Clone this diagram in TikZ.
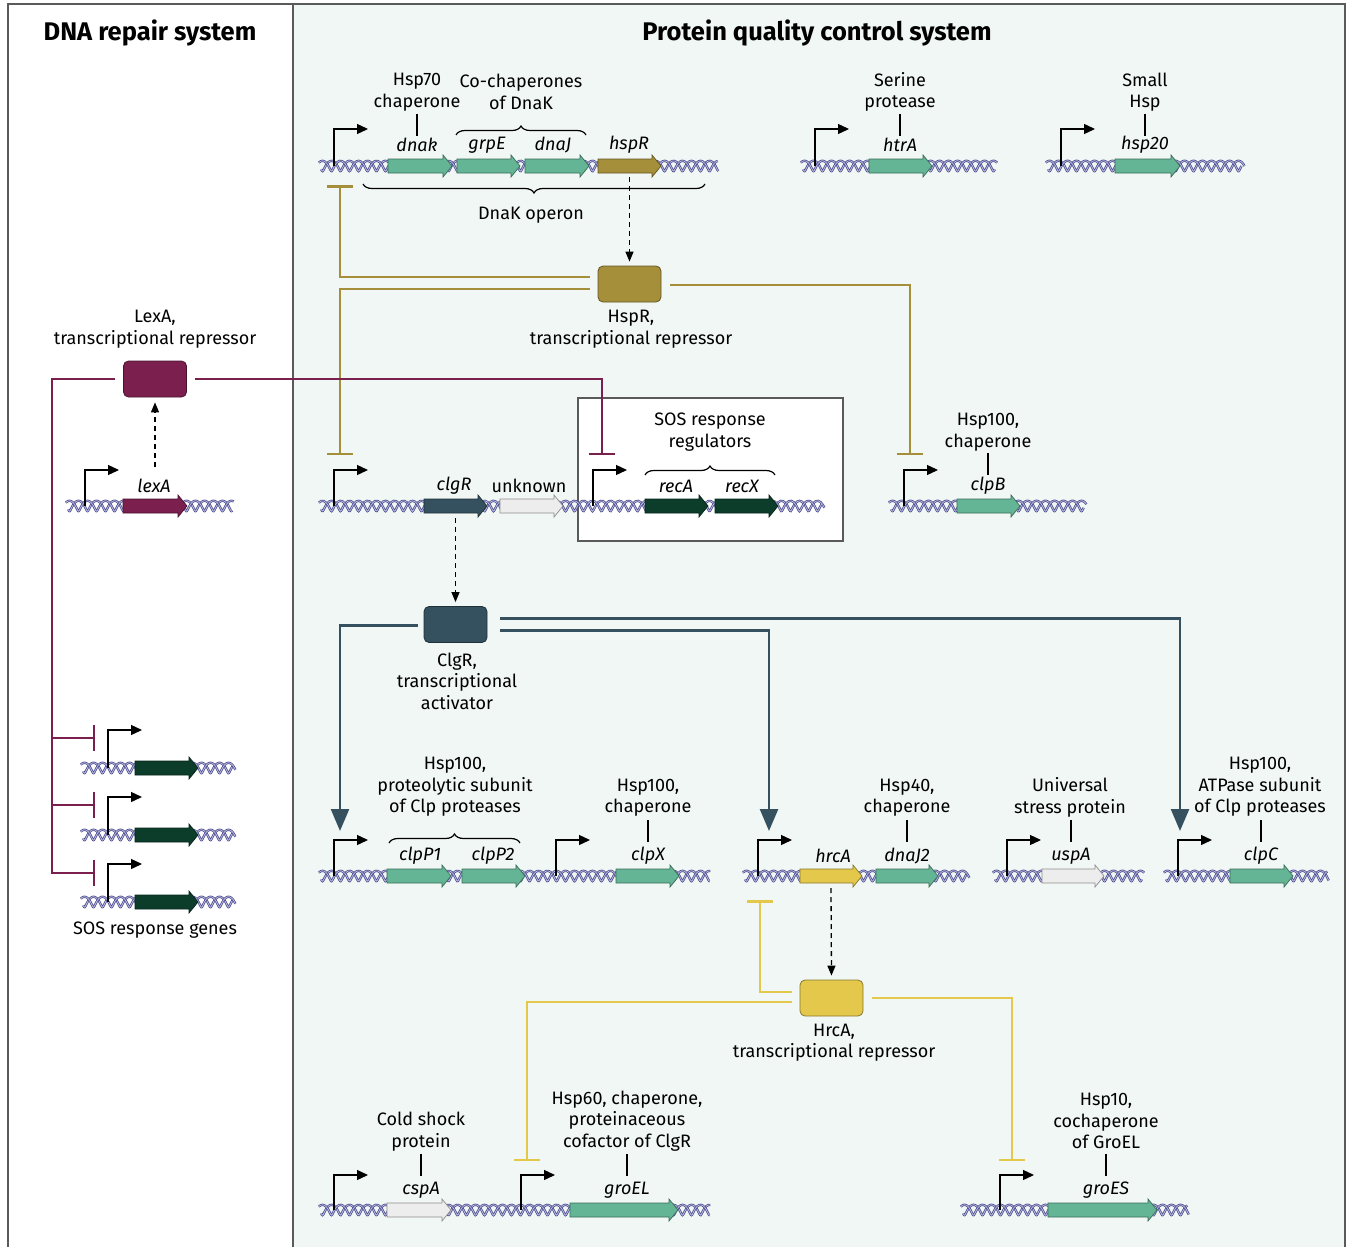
\documentclass[tikz,border=0pt]{standalone}
\usepackage{fontspec}
\setmainfont{Fira Sans}
\usetikzlibrary{arrows.meta,decorations.pathreplacing,calc}
\definecolor{mint}{HTML}{F1F7F4}
\definecolor{dnaD}{HTML}{4A4A90}
\definecolor{dnaL}{HTML}{BDBDDF}
\definecolor{gGreen}{HTML}{63B595}
\definecolor{gOlive}{HTML}{A68F3B}
\definecolor{gMaroon}{HTML}{7A1F4E}
\definecolor{gSlate}{HTML}{35515F}
\definecolor{gDark}{HTML}{0C3D2B}
\definecolor{gYellow}{HTML}{E4C84B}
\definecolor{gGrey}{HTML}{EDEDED}
\definecolor{frameC}{HTML}{5A5A5A}

\newcommand\dna[3]{%
  \foreach \ph in {0,180}{
  \draw[dnaD, line width=2.3pt] plot[domain=#1+2:#2-2, samples=300, smooth] ({\x+1.5*cos(20*(\x-#1)+\ph)},{#3+5.2*sin(20*(\x-#1)+\ph)});
  \draw[dnaL, line width=0.8pt] plot[domain=#1+2:#2-2, samples=300, smooth] ({\x+1.5*cos(20*(\x-#1)+\ph)},{#3+5.2*sin(20*(\x-#1)+\ph)});
  }}
\newcommand\gene[5]{%
  \filldraw[fill=#5, draw=#5!60!black, line width=0.7pt] (#2,#4-7) -- (#3-9,#4-7) -- (#3-9,#4-11) -- (#3,#4) -- (#3-9,#4+11) -- (#3-9,#4+7) -- (#2,#4+7) -- cycle;
  \coordinate (#1) at ({(#2+#3)/2},#4);}
\newcommand\prom[3]{\draw[promo] (#1,#2) -- (#1,#3) -- (#1+34,#3);}

\tikzset{
  promo/.style={draw=black, line width=1.3pt, -{Triangle[length=11pt,width=10pt]}},
  rbox/.style={rounded corners=5pt, minimum width=63pt, minimum height=36pt, line width=0.8pt, inner sep=0},
  lab/.style={font=\fontsize{18}{21.5}\selectfont, align=center, inner sep=0},
  glab/.style={font=\fontsize{18}{21}\selectfont\itshape, inner sep=0},
  ttl/.style={font=\fontsize{25.5}{28}\selectfont\bfseries, inner sep=0},
  tick/.style={draw=black, line width=1.1pt},
  brc/.style={draw=black, line width=1.2pt, decorate, decoration={brace, amplitude=9pt}},
  dsh/.style={draw=black, line width=1.3pt, dash pattern=on 5pt off 4pt, -{Triangle[length=10pt,width=8pt]}},
  inh/.style={line width=2.5pt, -{Bar[width=26pt]}},
  act/.style={draw=gSlate, line width=2.5pt, -{Triangle[length=22pt,width=18pt]}},
}

\begin{document}
\begin{tikzpicture}[x=1pt,y=-1pt]
\useasboundingbox (0,0) rectangle (1350,1247);
\fill[mint] (293,4) rectangle (1345,1250);
\draw[frameC, line width=1.5pt] (8,1250) -- (8,4) -- (1345,4) -- (1345,1250);
\draw[frameC, line width=1.5pt] (293,4) -- (293,1250);

\node[ttl] (t1) at (150,33) {DNA repair system};
\node[ttl] (t2) at (817,33) {Protein quality control system};

% ---------- Row 1
\dna{318}{720}{166}
\prom{334}{166}{129}
\gene{dnak}{388}{452}{166}{gGreen}
\gene{grpE}{457}{520}{166}{gGreen}
\gene{dnaJ}{525}{589}{166}{gGreen}
\gene{hspR}{598}{661}{166}{gOlive}
\node[glab] (ldnak) at (417,145) {dnak};
\node[glab] (lgrpE) at (487,145) {grpE};
\node[glab] (ldnaJ) at (553,145) {dnaJ};
\node[glab] (lhspR) at (629,145) {hspR};
\node[lab] (hsp70) at (417,92) {Hsp70\\chaperone};
\draw[tick] (417,114) -- (417,136);
\draw[brc] (456,135) -- (586,135);
\node[lab] (cochap) at (521,92) {Co-chaperones\\of DnaK};
\draw[brc] (705,184) -- (363,184);
\node[lab] (operon) at (531,215) {DnaK operon};

\dna{800}{998}{166}
\prom{815}{166}{129}
\gene{htrA}{869}{932}{166}{gGreen}
\node[glab] (lhtrA) at (900,145) {htrA};
\node[lab] (serine) at (900,92) {Serine\\protease};
\draw[tick] (900,114) -- (900,136);

\dna{1045}{1245}{166}
\prom{1061}{166}{129}
\gene{hsp20}{1115}{1180}{166}{gGreen}
\node[glab] (lhsp20) at (1145,145) {hsp20};
\node[lab] (smallhsp) at (1145,92) {Small\\Hsp};
\draw[tick] (1145,114) -- (1145,136);

% ---------- HspR
\node[rbox, fill=gOlive, draw=gOlive!60!black] (hsprbox) at (629.5,284) {};
\draw[dsh] ($(hspR)+(0,11)$) -- ($(hsprbox.north)+(0,-4)$);
\node[lab] (hsprlab) at (631,329) {HspR,\\transcriptional repressor};
\coordinate (tdnak) at (340,185);
\coordinate (tclgr) at (340,455);
\coordinate (tclpb) at (910,455);
\draw[inh, gOlive] ($(hsprbox.west)+(-8,-7)$) -| (tdnak);
\draw[inh, gOlive] ($(hsprbox.west)+(-8,5)$) -| (tclgr);
\draw[inh, gOlive] ($(hsprbox.east)+(9,1)$) -| (tclpb);

% ---------- LexA
\node[rbox, fill=gMaroon, draw=gMaroon!60!black] (lexbox) at (155,379) {};
\node[lab] (lexlab) at (155,329) {LexA,\\transcriptional repressor};
\dna{65}{235}{506}
\prom{85}{506}{470}
\gene{lexA}{123}{187}{506}{gMaroon}
\node[glab] (llexA) at (154,486) {lexA};
\draw[dsh] ($(lexA)+(0,-39)$) -- ($(lexbox.south)+(0,5)$);

% SOS box
\draw[fill=white, draw=frameC, line width=1.2pt] (578,398) rectangle (843,541);

\coordinate (trec) at (602,455);
\draw[inh, gMaroon] ($(lexbox.east)+(8,0)$) -| (trec);
\coordinate (tsos1) at (95,738);
\coordinate (tsos2) at (95,805);
\coordinate (tsos3) at (95,873);
\draw[inh, gMaroon] ($(lexbox.west)+(-8,0)$) -| (52,738) -- (tsos1);
\draw[inh, gMaroon] (52,737) |- (tsos2);
\draw[inh, gMaroon] (52,804) |- (tsos3);

\foreach \yy/\nm in {768/sosa,835/sosb,902/sosc}{
  \dna{80}{236}{\yy}
  \prom{108}{\yy}{\yy-38}
  \gene{\nm}{135}{198}{\yy}{gDark}
}
\node[lab] (soslab) at (155,930) {SOS response genes};

% ---------- clgR row
\dna{318}{825}{506}
\prom{334}{506}{470}
\gene{clgR}{424}{487}{506}{gSlate}
\gene{unk}{500}{563}{506}{gGrey}
\node[glab] (lclgR) at (454,486) {clgR};
\node[lab] (lunk) at (529,486) {unknown};
\prom{593}{506}{470}
\gene{recA}{645}{708}{506}{gDark}
\gene{recX}{715}{778}{506}{gDark}
\node[glab] (lrecA) at (676,486) {recA};
\node[glab] (lrecX) at (742,486) {recX};
\draw[brc] (645,475) -- (775,475);
\node[lab] (soslab2) at (710,432) {SOS response\\regulators};

\dna{888}{1087}{506}
\prom{904}{506}{470}
\gene{clpB}{957}{1020}{506}{gGreen}
\node[glab] (lclpB) at (988,486) {clpB};
\node[lab] (hsp100b) at (988,432) {Hsp100,\\chaperone};
\draw[tick] (988,453) -- (988,475);

% ---------- ClgR
\node[rbox, fill=gSlate, draw=gSlate!60!black] (clgrbox) at (455.5,624.5) {};
\draw[dsh] ($(clgR)+(0,12)$) -- ($(clgrbox.north)+(0,-4)$);
\node[lab] (clgrlab) at (457,681) {ClgR,\\transcriptional\\activator};
\coordinate (aclpp) at (340,831);
\coordinate (ahrca) at (769,831);
\coordinate (aclpc) at (1180,831);
\draw[act] ($(clgrbox.west)+(-6,1)$) -| (aclpp);
\draw[act] ($(clgrbox.east)+(13,-6)$) -| (aclpc);
\draw[act] ($(clgrbox.east)+(13,6)$) -| (ahrca);

% ---------- Row 3
\dna{318}{712}{876}
\prom{334}{876}{840}
\gene{clpP1}{387}{451}{876}{gGreen}
\gene{clpP2}{462}{525}{876}{gGreen}
\node[glab] (lclpP1) at (420,856) {clpP1};
\node[glab] (lclpP2) at (493,856) {clpP2};
\draw[brc] (389,843) -- (520,843);
\node[lab] (hsp100p) at (455,787) {Hsp100,\\proteolytic subunit\\of Clp proteases};
\prom{556}{876}{840}
\gene{clpX}{616}{679}{876}{gGreen}
\node[glab] (lclpX) at (648,856) {clpX};
\node[lab] (hsp100x) at (648,797.5) {Hsp100,\\chaperone};
\draw[tick] (648,820) -- (648,842);

\dna{742}{970}{876}
\prom{758}{876}{840}
\gene{hrcA}{800}{862}{876}{gYellow}
\gene{dnaJ2}{876}{938}{876}{gGreen}
\node[glab] (lhrcA) at (833,856) {hrcA};
\node[glab] (ldnaJ2) at (907,856) {dnaJ2};
\node[lab] (hsp40) at (907,797.5) {Hsp40,\\chaperone};
\draw[tick] (907,820) -- (907,842);

\dna{992}{1145}{876}
\prom{1007}{876}{840}
\gene{uspA}{1042}{1104}{876}{gGrey}
\node[glab] (luspA) at (1071,856) {uspA};
\node[lab] (univ) at (1070,797.5) {Universal\\stress protein};
\draw[tick] (1071,820) -- (1071,842);

\dna{1163}{1330}{876}
\prom{1178}{876}{840}
\gene{clpC}{1230}{1293}{876}{gGreen}
\node[glab] (lclpC) at (1261,856) {clpC};
\node[lab] (hsp100c) at (1260,787) {Hsp100,\\ATPase subunit\\of Clp proteases};
\draw[tick] (1261,820) -- (1261,842);

% ---------- HrcA
\node[rbox, fill=gYellow, draw=gYellow!60!black] (hrcabox) at (831.5,998) {};
\draw[dsh] ($(hrcA)+(0,12)$) -- ($(hrcabox.north)+(0,-4)$);
\node[lab] (hrcalab) at (834,1042.5) {HrcA,\\transcriptional repressor};
\coordinate (thrca) at (760,900);
\coordinate (tgroel) at (527,1161);
\coordinate (tgroes) at (1012,1161);
\draw[inh, gYellow] ($(hrcabox.west)+(-8,-6)$) -| (thrca);
\draw[inh, gYellow] ($(hrcabox.west)+(-8,4)$) -| (tgroel);
\draw[inh, gYellow] ($(hrcabox.east)+(9,0)$) -| (tgroes);

% ---------- Row 4
\dna{318}{712}{1210}
\prom{334}{1210}{1175}
\gene{cspA}{387}{451}{1210}{gGrey}
\node[glab] (lcspA) at (421,1190) {cspA};
\node[lab] (cold) at (421,1131.5) {Cold shock\\protein};
\draw[tick] (421,1154) -- (421,1176);
\prom{521}{1210}{1175}
\gene{groEL}{570}{678}{1210}{gGreen}
\node[glab] (lgroEL) at (627,1190) {groEL};
\node[lab] (hsp60) at (627,1121) {Hsp60, chaperone,\\proteinaceous\\cofactor of ClgR};
\draw[tick] (627,1154) -- (627,1176);

\dna{960}{1190}{1210}
\prom{1000}{1210}{1175}
\gene{groES}{1048}{1157}{1210}{gGreen}
\node[glab] (lgroES) at (1106,1190) {groES};
\node[lab] (hsp10) at (1106,1121) {Hsp10,\\cochaperone\\of GroEL};
\draw[tick] (1106,1154) -- (1106,1176);
\end{tikzpicture}
\end{document}
